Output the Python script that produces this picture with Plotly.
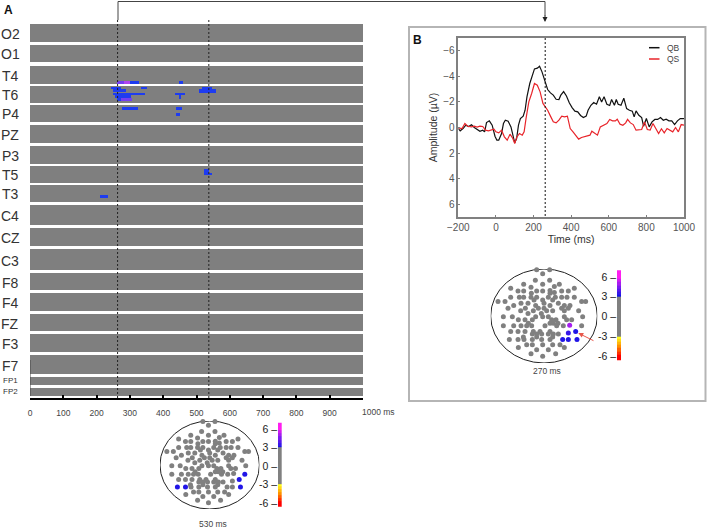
import plotly.graph_objects as go
from plotly.colors import sample_colorscale

W, H = 708, 529

# channels of the raster, top to bottom
channels = ["O2", "O1", "T4", "T6", "P4", "PZ", "P3", "T5", "T3", "C4", "CZ", "C3",
            "F8", "F4", "FZ", "F3", "F7", "FP1", "FP2"]
band_top = [24, 45, 65.7, 86, 104.7, 125, 145.5, 166, 185, 205, 228, 249.3,
            273, 293.3, 314.3, 334.3, 355.3, 376.7, 387.7]
band_bottom = [42, 62, 84, 102.5, 122, 143, 164, 183, 201.7, 225, 245.7, 270,
               290, 310.7, 331, 351.7, 374, 385, 396]

# significant stretches in the raster (ms, y on the band scale, amplitude uV)
patch_start = [261, 282, 300, 447, 243, 333, 250, 250, 255, 261, 272, 435, 448, 276, 438, 438,
               516, 508, 522, 537, 210]
patch_end = [282, 300, 327, 459, 273, 351, 288, 346, 303, 272, 307, 465, 452, 324, 456, 450,
             546, 558, 537, 546, 234]
patch_y0 = [81, 81, 81, 81, 86.7, 86.7, 89.3, 93, 95, 97.5, 97.5, 93, 95, 106.7, 106.7, 113.4,
            86.7, 89.3, 169, 172.5, 195]
patch_y1 = [84, 84, 84, 84, 89.3, 89.3, 92.3, 95, 97.5, 101, 101, 95, 98.5, 109.7, 109.7, 116.4,
            89.3, 92.7, 175, 175, 198]
patch_amp = [4.8, 5.4, 3.6, 3.4, 3.2, 3.2, 3.2, 3.3, 3.2, 3.2, 4.8, 3.3, 3.3, 3.2, 3.9, 3.2,
             3.2, 3.2, 3.2, 3.2, 3.2]
vline_ms = [263, 537]

tick_ms = [0, 100, 200, 300, 400, 500, 600, 700, 800, 900]

# ERP traces
qb_ms = [-200, -190, -175, -160, -145, -130, -115, -100, -85, -70, -60, -50, -35, -20, -5, 5, 15,
         30, 40, 50, 65, 80, 90, 100, 110, 120, 130, 145, 155, 165, 180, 195, 205, 220, 232, 245,
         260, 275, 290, 305, 320, 335, 345, 360, 375, 390, 405, 420, 435, 450, 465, 480, 490, 505,
         520, 535, 550, 562, 575, 590, 605, 615, 630, 640, 650, 665, 680, 695, 710, 725, 735, 745,
         760, 775, 785, 800, 815, 830, 845, 860, 875, 890, 905, 920, 935, 950, 965, 980, 1000]
qb_uv = [.08, .26, .08, -.18, -.08, -.21, 0, .13, .29, .21, .34, -.39, -.52, -.18, .68, .99, .99,
         .47, -.31, -.57, -.49, -.05, .68, 1.2, .86, -.18, -.7, -.89, -1.35, -2.4, -3.44, -4.22,
         -4.58, -4.64, -4.79, -4.35, -3.7, -2.97, -2.71, -2.53, -2.21, -2.19, -2.53, -2.81, -2.47,
         -1.93, -1.56, -1.28, -1.22, -.94, -.78, -.89, -1.35, -1.74, -1.95, -1.82, -2.4, -2.0,
         -2.4, -1.82, -1.72, -2.19, -1.74, -2.19, -1.82, -1.74, -2.29, -1.48, -1.35, -1.28, -.83,
         -1.3, -.96, -.78, -.1, -.7, -.05, -.44, -.63, -.63, -.78, -.57, -.65, -.52, -.52, -.23,
         -.52, -.7, -.7]
qs_ms = [-200, -180, -165, -150, -130, -115, -100, -85, -70, -55, -40, -25, -10, 0, 15, 30, 45, 60,
         75, 90, 100, 110, 125, 140, 150, 160, 175, 190, 205, 220, 235, 250, 262, 275, 290, 305,
         320, 335, 350, 365, 380, 395, 410, 425, 440, 455, 470, 485, 500, 510, 525, 540, 555, 570,
         590, 605, 620, 635, 645, 660, 675, 690, 700, 715, 730, 745, 760, 775, 790, 805, 820, 835,
         850, 865, 880, 895, 910, 925, 940, 955, 970, 985, 1000]
qs_uv = [.03, .08, -.31, -.1, -.05, -.1, -.03, -.1, -.08, .21, .26, .21, .13, .34, .42, .21, .73,
         .99, .52, .86, 1.25, .78, .47, .6, .34, -.7, -2.0, -2.66, -3.44, -3.31, -2.79, -1.88,
         -1.67, -1.35, -.89, -.44, -.36, -.57, -.89, -.83, -.89, .08, .34, .6, .91, .78, .73, .68,
         .6, .29, .47, .6, -.05, -.18, -.31, -.63, -.52, -.52, -.65, -.26, -.18, -.36, -.63, -.36,
         -.23, .21, .16, .16, -.44, .16, .21, -.31, .08, .47, .1, .42, .08, .21, .34, 0, .34,
         -.23, -.18]

# electrode layout of the scalp maps (arbitrary head units)
elec_x = [200, 239, 218, 196, 239, 161, 218, 268, 122, 183, 253, 313,
          144, 161, 200, 218, 240, 275, 295, 184, 240, 253,
          122, 148, 161, 183, 200, 235, 256, 275, 291, 313, 192, 218, 248,
          84, 105, 335, 347, 153, 174, 265, 222, 131, 197, 240, 283, 300,
          114, 166, 205, 222, 275, 295, 152, 190, 230, 248, 283, 326, 174, 214,
          100, 127, 197, 218, 235, 283, 338, 145, 165, 187, 245, 258, 290, 305,
          175, 240, 250, 264, 100, 131, 153, 170, 185, 225, 260, 280, 299, 335,
          122, 144, 165, 190, 210, 240, 317, 295, 187, 200, 215, 235, 250, 265,
          200, 248, 160, 118, 144, 162, 187, 215, 240, 278, 295, 321,
          170, 187, 218, 248, 270, 145, 283, 200, 235, 183, 257, 218]
elec_y = [44, 44, 56, 76, 76, 88, 88, 88, 100, 97, 95, 100,
          108, 108, 108, 108, 107, 108, 108, 115, 115, 113,
          127, 127, 127, 127, 127, 127, 127, 127, 127, 127, 135, 135, 135,
          140, 140, 140, 140, 145, 145, 145, 145, 152, 152, 152, 152, 152,
          160, 160, 160, 160, 160, 160, 168, 168, 168, 168, 168, 168, 176, 176,
          186, 186, 186, 186, 186, 186, 186, 195, 195, 195, 195, 195, 195, 195,
          205, 205, 205, 205, 213, 213, 213, 213, 213, 213, 213, 213, 211, 213,
          230, 230, 230, 230, 230, 230, 230, 235, 238, 238, 238, 238, 238, 238,
          247, 247, 247, 254, 254, 254, 254, 254, 254, 254, 254, 254,
          270, 270, 270, 270, 270, 278, 278, 285, 285, 297, 297, 305]

# electrodes over threshold: (x, y, uV)
sig_270 = [(299, 211, 5.0), (295, 235, 3.5), (317, 230, 3.2),
           (278, 254, 3.2), (295, 254, 3.2), (321, 254, 3.2)]
sig_530 = [(118, 254, 3.2), (144, 254, 3.2), (335, 213, 3.2), (317, 230, 3.2), (321, 254, 3.2)]

legend_names = ["QB", "QS"]
legend_colors = ["#111", "#e8242a"]
bar_ticks = [6, 3, 0, -3, -6]
bar_levels = [-7, -6.5, -6, -5.5, -5, -4.5, -4, -3.5, -3.01, -3, -2, -1, 0, 1, 2, 3, 3.01, 3.5, 4, 4.5,
              5, 5.5, 6, 6.5, 7]

AMP_SCALE = [[0, "#ff0000"], [1 / 14, "#ff0000"], [2.5 / 14, "#ff9000"], [3.99 / 14, "#ffff20"],
             [4 / 14, "#808080"], [10 / 14, "#808080"], [10.01 / 14, "#1414e6"],
             [11.5 / 14, "#7a1cf0"], [13 / 14, "#ff1ef0"], [1, "#ff1ef0"]]
RASTER_SCALE = [[0, "#1e3cf0"], [0.4, "#1e3cf0"], [0.7, "#a040f0"], [1, "#d050f0"]]


def amp_color(v):
    return sample_colorscale(AMP_SCALE, [(v + 7) / 14])[0]


def xdom(x0, x1):
    return [x0 / W, x1 / W]


def ydom(y0, y1):
    # pixel rows from the top, as paper fractions
    return [1 - y1 / H, 1 - y0 / H]


def note(fig, px, py, text, size=10, color="#444", xanchor="center"):
    fig.add_annotation(x=px / W, y=1 - py / H, xref="paper", yref="paper", text=text,
                       showarrow=False, font=dict(size=size, color=color),
                       xanchor=xanchor, yanchor="middle", borderpad=0)


fig = go.Figure()

# panel A: grey bands plus significant stretches
fig.add_trace(go.Bar(
    orientation="h", base=0, x=[1000] * len(channels),
    y=[(a + b) / 2 for a, b in zip(band_top, band_bottom)],
    width=[b - a for a, b in zip(band_top, band_bottom)],
    marker=dict(color="#7f7f7f", line_width=0), showlegend=False, xaxis="x", yaxis="y",
))
fig.add_trace(go.Bar(
    orientation="h", base=patch_start, x=[e - s for s, e in zip(patch_start, patch_end)],
    y=[(a + b) / 2 for a, b in zip(patch_y0, patch_y1)],
    width=[b - a for a, b in zip(patch_y0, patch_y1)],
    marker=dict(color=patch_amp, cmin=3, cmax=6, colorscale=RASTER_SCALE, showscale=False, line_width=0),
    showlegend=False, xaxis="x", yaxis="y",
))

# panel B: ERP
fig.add_trace(go.Scatter(x=qb_ms, y=qb_uv, mode="lines", name=legend_names[0], showlegend=False,
                         line=dict(color=legend_colors[0], width=1.2), xaxis="x2", yaxis="y2"))
fig.add_trace(go.Scatter(x=qs_ms, y=qs_uv, mode="lines", name=legend_names[1], showlegend=False,
                         line=dict(color=legend_colors[1], width=1.2), xaxis="x2", yaxis="y2"))


def add_map(sig, xa, ya):
    lookup = {(x, y): v for x, y, v in sig}
    colors = [amp_color(lookup.get((x, y), 0)) for x, y in zip(elec_x, elec_y)]
    fig.add_trace(go.Scatter(x=elec_x, y=elec_y, mode="markers", showlegend=False,
                             marker=dict(size=5, color=colors, line_width=0),
                             cliponaxis=False, xaxis=xa, yaxis=ya))
    fig.add_shape(type="circle", x0=62, x1=382, y0=42, y1=325,
                  xref=xa, yref=ya, line=dict(color="#222", width=1), layer="below")


def add_bar(xa, ya):
    fig.add_trace(go.Heatmap(x=[0.5], y=bar_levels, z=[[v] for v in bar_levels], zmin=-7, zmax=7,
                             colorscale=AMP_SCALE, showscale=False, xaxis=xa, yaxis=ya))


add_map(sig_530, "x3", "y3")
add_map(sig_270, "x4", "y4")
add_bar("x5", "y5")
add_bar("x6", "y6")

hidden = dict(visible=False, showgrid=False, zeroline=False, automargin=False)
tick_font = dict(size=10, color="#555")
bar_y = dict(tickmode="array", tickvals=bar_ticks, ticktext=[f"{t} –" for t in bar_ticks],
             ticks="", showline=False, showgrid=False, zeroline=False, automargin=False,
             tickfont=dict(size=10.5, color="#222"))

fig.update_layout(
    template="none",
    width=W, height=H, autosize=False, margin=dict(l=0, r=0, t=0, b=0),
    paper_bgcolor="white", plot_bgcolor="white", barmode="overlay", bargap=0, showlegend=False,
    font=dict(family="Liberation Sans, Arial, sans-serif", color="#333"),
    xaxis=dict(domain=xdom(30, 363), range=[0, 1000], anchor="y", showgrid=False, zeroline=False,
               automargin=False,
               showline=True, linecolor="black", linewidth=2, ticks="inside", ticklen=3, tickwidth=2,
               tickcolor="black", tickmode="array", tickvals=tick_ms + [1000],
               ticktext=[str(t) for t in tick_ms] + [""], tickfont=dict(size=8.5, color="#444"),
               ticklabelstandoff=6),
    yaxis=dict(domain=ydom(20, 398), range=[398, 20], anchor="x", **hidden),
    xaxis2=dict(domain=xdom(458.3, 684), range=[-200, 1000], anchor="y2", showgrid=False,
                automargin=False,
                zeroline=False, showline=True, mirror=True, linecolor="#808080", linewidth=1.5,
                ticks="inside", ticklen=2, tickcolor="#808080", tickvals=list(range(-200, 1001, 200)),
                tickfont=tick_font, title=dict(text="Time (ms)", font=dict(size=10.5, color="#333"), standoff=1)),
    yaxis2=dict(domain=ydom(38, 217), range=[7, -7], anchor="x2", showgrid=False, zeroline=False,
                automargin=False,
                showline=True, mirror=True, linecolor="#808080", linewidth=1.5, ticks="inside",
                ticklen=2, tickcolor="#808080", tickvals=[-6, -4, -2, 0, 2, 4, 6], tickfont=tick_font,
                title=dict(text="Amplitude (µV)", font=dict(size=10.5, color="#333"), standoff=3)),
    xaxis3=dict(domain=xdom(160, 259.4), range=[62, 382], anchor="y3", **hidden),
    yaxis3=dict(domain=ydom(421, 509), range=[325, 42], anchor="x3", **hidden),
    xaxis4=dict(domain=xdom(490.7, 597.3), range=[62, 382], anchor="y4", **hidden),
    yaxis4=dict(domain=ydom(269, 363), range=[325, 42], anchor="x4", **hidden),
    xaxis5=dict(domain=xdom(278, 281.7), range=[0, 1], anchor="y5", **hidden),
    yaxis5=dict(domain=ydom(422.7, 506.7), range=[-6.6, 7], anchor="x5", **bar_y),
    xaxis6=dict(domain=xdom(617, 621), range=[0, 1], anchor="y6", **hidden),
    yaxis6=dict(domain=ydom(270.3, 360.3), range=[-6.6, 7], anchor="x6", **bar_y),
)

# channel names
for name, top, bottom in zip(channels, band_top, band_bottom):
    small = name.startswith("FP")
    note(fig, 10, (top + bottom) / 2 + (0 if small else 1), name, size=8 if small else 14, color="#333")

note(fig, 361, 411.5, "1000 ms", size=8.5, xanchor="left")
note(fig, 213, 524, "530 ms", size=8.5)
note(fig, 547, 371, "270 ms", size=8.5)
note(fig, 8, 10, "<b>A</b>", size=12, color="#111")
note(fig, 417, 40, "<b>B</b>", size=12, color="#111")

# legend of panel B, short samples as in the original
for name, color, py in zip(legend_names, legend_colors, [47.7, 59]):
    fig.add_shape(type="line", x0=649 / W, x1=659.5 / W, y0=1 - py / H, y1=1 - py / H, xref="paper",
                  yref="paper", line=dict(color=color, width=1.5))
    note(fig, 666, py, name, size=8.5, xanchor="left")

# dotted markers through the raster and ERP
for ms in vline_ms:
    fig.add_shape(type="line", x0=ms, x1=ms, y0=20, y1=398, xref="x", yref="y",
                  line=dict(color="#222", width=1, dash="2px,2px"), layer="above")
fig.add_shape(type="line", x0=262, x1=262, y0=-7, y1=7, xref="x2", yref="y2",
              line=dict(color="#111", width=1, dash="2px,2px"), layer="above")

# thin edge on the last raster rows
fig.add_shape(type="line", x0=0, x1=0, y0=360, y1=396, xref="x", yref="y",
              line=dict(color="#444", width=1), layer="above")

# frame around panel B
fig.add_shape(type="rect", x0=409 / W, x1=705.5 / W, y0=1 - 401 / H, y1=1 - 27 / H, xref="paper",
              yref="paper", line=dict(color="#b5b5b5", width=2), layer="below")

# connector from A to B
fig.add_shape(type="path", path=f"M {118 / W} {1 - 20 / H} L {118 / W} {1 - 1.5 / H} L {545 / W} {1 - 1.5 / H} L {545 / W} {1 - 16 / H}",
              xref="paper", yref="paper", line=dict(color="#444", width=1))
fig.add_annotation(x=545 / W, y=1 - 22 / H, xref="paper", yref="paper", ax=0, ay=-8,
                   text="", showarrow=True, arrowhead=2, arrowsize=1,
                   arrowwidth=1, arrowcolor="#222")

# red arrow on the 270 ms map
fig.add_annotation(x=325, y=235, xref="x4", yref="y4", ax=375, ay=260, axref="x4", ayref="y4",
                   text="", showarrow=True, arrowhead=2, arrowsize=1, arrowwidth=1, arrowcolor="#e8584c")

fig.write_html("out.html", config=dict(displayModeBar=False),
               post_script="document.body.style.margin='0';document.body.style.overflow='hidden';")
